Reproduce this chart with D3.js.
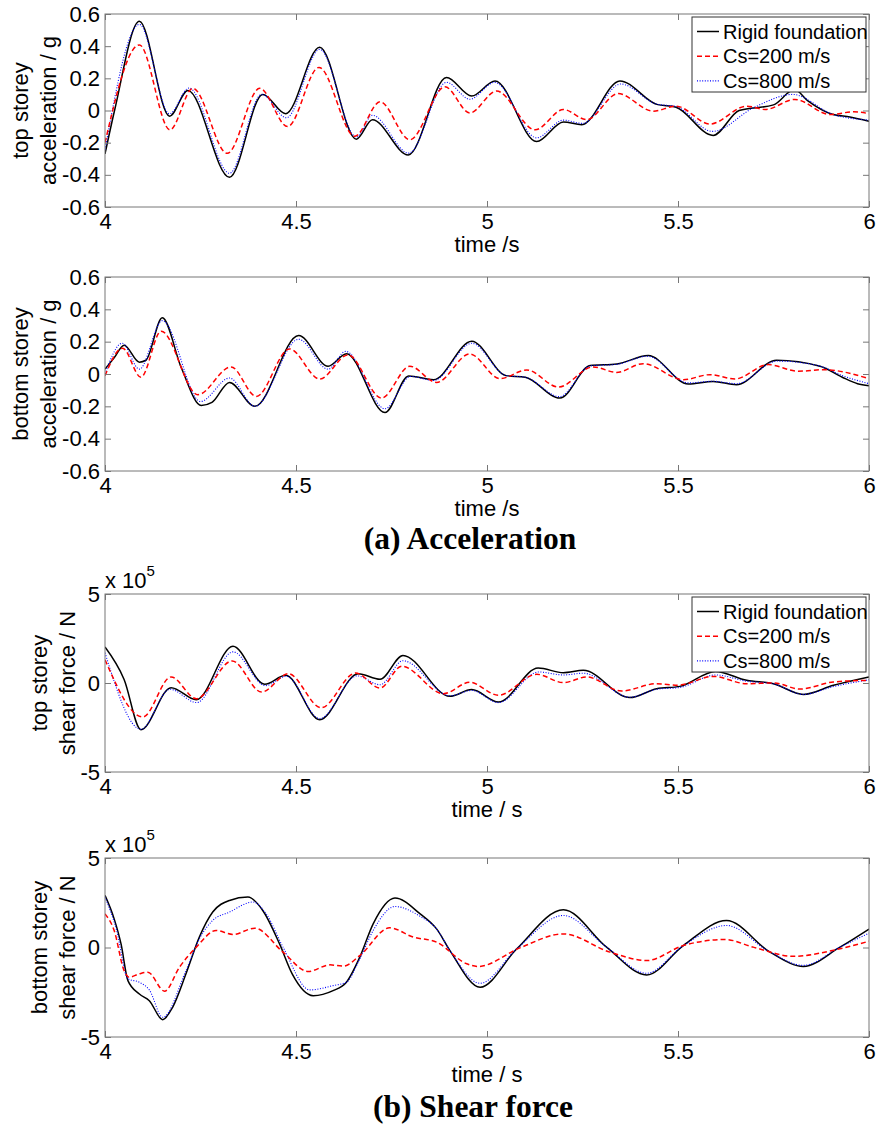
<!DOCTYPE html>
<html>
<head>
<meta charset="utf-8">
<title>Storey response</title>
<script src="https://cdn.jsdelivr.net/npm/d3@7/dist/d3.min.js"></script>
<style>
  body { margin: 0; background: #fff; }
  svg { display: block; }
  .tick text { font-family: "Liberation Sans", Arial, sans-serif; font-size: 22px; fill: #000; }
  .tick line { stroke: #777; }
  .frame { fill: none; stroke: #777; stroke-width: 1px; }
  .lab { font-family: "Liberation Sans", Arial, sans-serif; font-size: 22px; fill: #000; }
  .leg { font-family: "Liberation Sans", Arial, sans-serif; font-size: 20px; fill: #000; }
  .cap { font-family: "Liberation Serif", "Times New Roman", serif; font-weight: bold; font-size: 31.5px; fill: #000; }
</style>
</head>
<body>
<script>
var width = 879, height = 1126;

var timeTicks = [4, 4.5, 5, 5.5, 6];
var accTicks = [-0.6, -0.4, -0.2, 0, 0.2, 0.4, 0.6];
var shearTicks = [-5, 0, 5];
var seriesNames = ["Rigid foundation", "Cs=200 m/s", "Cs=800 m/s"];

// [time s, acceleration g]
var topAccRigid = [[4.00,-0.27],[4.025,0.0],[4.09,0.555],[4.169,-0.035],[4.217,0.125],[4.326,-0.415],[4.413,0.1],[4.473,-0.02],[4.562,0.394],[4.658,-0.178],[4.70,-0.057],[4.794,-0.276],[4.894,0.205],[4.96,0.09],[5.021,0.184],[5.13,-0.193],[5.2,-0.071],[5.248,-0.088],[5.348,0.184],[5.444,0.038],[5.495,0.02],[5.592,-0.155],[5.66,0.0],[5.75,0.035],[5.805,0.13],[5.84,0.06],[5.906,-0.025],[5.95,-0.04],[6.0,-0.067]];
var topAccCs200 = [[4.00,-0.2],[4.09,0.408],[4.17,-0.12],[4.23,0.138],[4.32,-0.266],[4.405,0.138],[4.478,-0.1],[4.56,0.268],[4.654,-0.16],[4.72,0.054],[4.798,-0.182],[4.89,0.147],[4.955,-0.015],[5.025,0.121],[5.126,-0.12],[5.2,0.006],[5.261,-0.057],[5.343,0.105],[5.435,-0.004],[5.495,0.027],[5.584,-0.084],[5.68,0.027],[5.728,0.006],[5.806,0.069],[5.898,-0.025],[5.96,-0.008],[6.0,-0.02]];
var topAccCs800 = [[4.00,-0.245],[4.09,0.535],[4.169,-0.02],[4.22,0.14],[4.326,-0.39],[4.41,0.1],[4.475,-0.045],[4.562,0.38],[4.658,-0.165],[4.70,-0.03],[4.795,-0.265],[4.894,0.175],[4.955,0.07],[5.02,0.175],[5.13,-0.17],[5.2,-0.06],[5.25,-0.08],[5.35,0.165],[5.444,0.04],[5.495,0.025],[5.59,-0.13],[5.70,0.02],[5.80,0.1],[5.906,-0.025],[6.0,-0.06]];

var botAccRigid = [[4.00,0.03],[4.024,0.1],[4.05,0.178],[4.09,0.073],[4.107,0.085],[4.15,0.348],[4.2,0.037],[4.252,-0.195],[4.28,-0.176],[4.326,-0.052],[4.392,-0.2],[4.507,0.238],[4.584,0.048],[4.632,0.126],[4.733,-0.238],[4.795,-0.012],[4.86,-0.035],[4.96,0.203],[5.05,-0.01],[5.10,-0.02],[5.191,-0.149],[5.27,0.052],[5.34,0.062],[5.422,0.114],[5.527,-0.062],[5.592,-0.046],[5.653,-0.066],[5.758,0.085],[5.872,0.048],[5.93,-0.02],[5.97,-0.06],[6.0,-0.073]];
var botAccCs200 = [[4.00,-0.01],[4.046,0.16],[4.094,-0.02],[4.147,0.265],[4.243,-0.128],[4.33,0.044],[4.396,-0.139],[4.483,0.155],[4.562,-0.031],[4.636,0.118],[4.724,-0.149],[4.798,0.048],[4.868,-0.052],[4.955,0.124],[5.034,-0.029],[5.104,0.025],[5.187,-0.081],[5.278,0.044],[5.339,0.01],[5.409,0.064],[5.514,-0.035],[5.584,-0.004],[5.649,-0.031],[5.736,0.058],[5.815,0.017],[5.88,0.027],[6.0,-0.029]];
var botAccCs800 = [[4.00,0.0],[4.045,0.19],[4.09,0.03],[4.15,0.33],[4.25,-0.17],[4.326,-0.025],[4.392,-0.2],[4.507,0.215],[4.584,0.03],[4.63,0.14],[4.733,-0.215],[4.80,-0.015],[4.86,-0.04],[4.96,0.19],[5.05,-0.01],[5.10,-0.02],[5.19,-0.14],[5.27,0.05],[5.34,0.06],[5.42,0.11],[5.527,-0.055],[5.592,-0.045],[5.653,-0.06],[5.76,0.08],[5.87,0.05],[5.93,-0.01],[6.0,-0.06]];

// [time s, shear force x 1e5 N]
var topShearRigid = [[4.00,2.02],[4.05,0.2],[4.094,-2.62],[4.173,-0.26],[4.239,-0.94],[4.335,2.06],[4.418,-0.07],[4.473,0.43],[4.562,-2.06],[4.663,0.52],[4.72,0.21],[4.78,1.55],[4.903,-0.75],[4.96,-0.37],[5.03,-1.07],[5.134,0.84],[5.2,0.58],[5.252,0.71],[5.374,-0.82],[5.444,-0.32],[5.505,-0.19],[5.598,0.65],[5.68,0.15],[5.75,-0.04],[5.828,-0.64],[5.907,-0.13],[6.0,0.34]];
var topShearCs200 = [[4.00,1.31],[4.099,-1.91],[4.173,0.34],[4.239,-0.88],[4.333,1.24],[4.41,-0.51],[4.48,0.52],[4.566,-1.39],[4.656,0.56],[4.72,-0.28],[4.777,0.94],[4.886,-0.6],[4.955,0.04],[5.03,-0.69],[5.13,0.49],[5.2,0.02],[5.261,0.34],[5.352,-0.45],[5.444,-0.04],[5.50,-0.12],[5.592,0.37],[5.68,-0.04],[5.75,0.0],[5.82,-0.34],[5.907,0.06],[6.0,0.15]];
var topShearCs800 = [[4.00,1.7],[4.094,-2.6],[4.17,-0.35],[4.24,-1.1],[4.335,1.75],[4.42,-0.15],[4.475,0.38],[4.562,-2.0],[4.66,0.4],[4.72,-0.1],[4.78,1.25],[4.903,-0.72],[4.96,-0.42],[5.03,-1.1],[5.135,0.62],[5.2,0.45],[5.252,0.55],[5.374,-0.8],[5.444,-0.35],[5.505,-0.25],[5.598,0.45],[5.68,0.1],[5.75,-0.05],[5.828,-0.64],[5.907,-0.2],[6.0,0.18]];

var botShearRigid = [[4.00,2.91],[4.024,1.6],[4.042,0.2],[4.06,-1.85],[4.09,-2.6],[4.116,-2.97],[4.151,-4.03],[4.177,-3.34],[4.212,-1.47],[4.247,0.58],[4.282,1.98],[4.326,2.63],[4.374,2.82],[4.413,2.07],[4.457,0.2],[4.49,-1.47],[4.545,-2.69],[4.597,-2.41],[4.632,-1.94],[4.667,-0.54],[4.702,1.32],[4.759,2.76],[4.825,1.88],[4.868,1.04],[4.903,-0.17],[4.982,-2.22],[5.078,-0.07],[5.2,2.11],[5.313,0.02],[5.418,-1.53],[5.514,0.11],[5.627,1.51],[5.741,-0.26],[5.828,-1.06],[5.924,0.02],[6.0,1.03]];
var botShearCs200 = [[4.00,1.88],[4.024,0.95],[4.05,-1.29],[4.063,-1.66],[4.09,-1.47],[4.112,-1.38],[4.156,-2.44],[4.195,-1.1],[4.239,0.02],[4.291,0.95],[4.335,0.73],[4.392,1.08],[4.466,-0.26],[4.532,-1.34],[4.589,-0.97],[4.624,-1.04],[4.667,-0.45],[4.745,1.1],[4.807,0.58],[4.868,0.3],[4.947,-0.91],[4.977,-1.06],[5.086,-0.02],[5.2,0.76],[5.322,-0.26],[5.418,-0.73],[5.514,0.11],[5.623,0.45],[5.697,0.02],[5.802,-0.49],[5.924,-0.07],[6.0,0.35]];
var botShearCs800 = [[4.00,2.82],[4.03,1.0],[4.06,-1.75],[4.09,-1.94],[4.116,-2.37],[4.151,-3.9],[4.212,-1.29],[4.247,0.49],[4.282,1.51],[4.326,1.98],[4.387,2.54],[4.422,1.88],[4.466,0.02],[4.536,-2.37],[4.597,-2.13],[4.632,-1.94],[4.667,-0.63],[4.702,0.95],[4.759,2.29],[4.825,1.74],[4.868,1.04],[4.903,-0.17],[4.982,-2.0],[5.078,-0.07],[5.2,1.79],[5.313,0.02],[5.418,-1.44],[5.514,0.11],[5.627,1.23],[5.741,-0.26],[5.828,-1.0],[5.924,0.02],[6.0,0.8]];

var svg = d3.select("body").append("svg").attr("width", width).attr("height", height);

var x = d3.scaleLinear().domain([4, 6]).range([105, 869]);

var styles = [
  { color: "#000", dash: null, w: 1.5 },
  { color: "#ff0000", dash: "5,3", w: 1.5 },
  { color: "#0000ff", dash: "1,1.6", w: 1.1 }
];

function fmt(d) { return d === 0 ? "0" : String(+d.toFixed(1)); }

function panel(p) {
  var y = d3.scaleLinear().domain([p.ticks[0], p.ticks[p.ticks.length - 1]]).range([p.bottom, p.top]);
  var g = svg.append("g");
  var id = "clip" + p.top;
  svg.append("clipPath").attr("id", id).append("rect")
    .attr("x", 105).attr("y", p.top).attr("width", 764).attr("height", p.bottom - p.top);

  var line = d3.line().x(function(d) { return x(d[0]); }).y(function(d) { return y(d[1]); })
    .curve(d3.curveMonotoneX);
  var order = [0, 2, 1];
  order.forEach(function(i) {
    g.append("path").datum(p.data[i])
      .attr("clip-path", "url(#" + id + ")")
      .attr("fill", "none").attr("stroke", styles[i].color)
      .attr("stroke-width", styles[i].w)
      .attr("stroke-dasharray", styles[i].dash)
      .attr("d", line);
  });

  var ax;
  ax = g.append("g").attr("transform", "translate(0," + p.bottom + ")")
    .call(d3.axisBottom(x).tickValues(timeTicks).tickFormat(fmt).tickSizeInner(-6).tickSizeOuter(0).tickPadding(6));
  ax.select(".domain").remove();
  ax = g.append("g").attr("transform", "translate(0," + p.top + ")")
    .call(d3.axisTop(x).tickValues(timeTicks).tickFormat("").tickSizeInner(-6).tickSizeOuter(0));
  ax.select(".domain").remove();
  ax = g.append("g").attr("transform", "translate(105,0)")
    .call(d3.axisLeft(y).tickValues(p.ticks).tickFormat(fmt).tickSizeInner(-6).tickSizeOuter(0).tickPadding(5));
  ax.select(".domain").remove();
  ax = g.append("g").attr("transform", "translate(869,0)")
    .call(d3.axisRight(y).tickValues(p.ticks).tickFormat("").tickSizeInner(-6).tickSizeOuter(0));
  ax.select(".domain").remove();

  g.append("rect").attr("class", "frame")
    .attr("x", 105).attr("y", p.top).attr("width", 764).attr("height", p.bottom - p.top);

  g.append("text").attr("class", "lab").attr("text-anchor", "middle")
    .attr("x", 487).attr("y", p.bottom + 45).text(p.xlabel);

  var cy = (p.top + p.bottom) / 2;
  p.ylabel.forEach(function(s, k) {
    g.append("text").attr("class", "lab").attr("text-anchor", "middle")
      .attr("transform", "translate(" + p.ylx[k] + "," + cy + ") rotate(-90)").text(s);
  });

  if (p.exp) {
    var t = g.append("text").attr("class", "lab").attr("x", 105).attr("y", p.top - 6);
    t.append("tspan").text("x 10");
    t.append("tspan").attr("dy", -12).style("font-size", "15px").text("5");
  }

  if (p.legend) {
    var lg = g.append("g").attr("transform", "translate(692," + (p.top + 3) + ")");
    lg.append("rect").attr("width", 174).attr("height", 75)
      .attr("fill", "#fff").attr("stroke", "#333").attr("stroke-width", 1);
    seriesNames.forEach(function(n, i) {
      var ry = 14.5 + i * 24.7;
      lg.append("line").attr("x1", 5).attr("x2", 27).attr("y1", ry).attr("y2", ry)
        .attr("stroke", styles[i].color).attr("stroke-width", styles[i].w)
        .attr("stroke-dasharray", styles[i].dash);
      lg.append("text").attr("class", "leg").attr("x", 31).attr("y", ry + 7).text(n);
    });
  }
}

panel({ top: 14, bottom: 207, ticks: accTicks, data: [topAccRigid, topAccCs200, topAccCs800],
  xlabel: "time /s", ylabel: ["top storey", "acceleration / g"], ylx: [28, 56], legend: true });
panel({ top: 277, bottom: 471, ticks: accTicks, data: [botAccRigid, botAccCs200, botAccCs800],
  xlabel: "time /s", ylabel: ["bottom storey", "acceleration / g"], ylx: [28, 56] });
panel({ top: 594, bottom: 772, ticks: shearTicks, data: [topShearRigid, topShearCs200, topShearCs800],
  xlabel: "time / s", ylabel: ["top storey", "shear force / N"], ylx: [47, 75], legend: true, exp: true });
panel({ top: 858, bottom: 1037, ticks: shearTicks, data: [botShearRigid, botShearCs200, botShearCs800],
  xlabel: "time / s", ylabel: ["bottom storey", "shear force / N"], ylx: [47, 75], exp: true });

svg.append("text").attr("class", "cap").attr("text-anchor", "middle")
  .attr("x", 470).attr("y", 549).text("(a) Acceleration");
svg.append("text").attr("class", "cap").attr("text-anchor", "middle")
  .attr("x", 473).attr("y", 1117).text("(b) Shear force");
</script>
</body>
</html>
